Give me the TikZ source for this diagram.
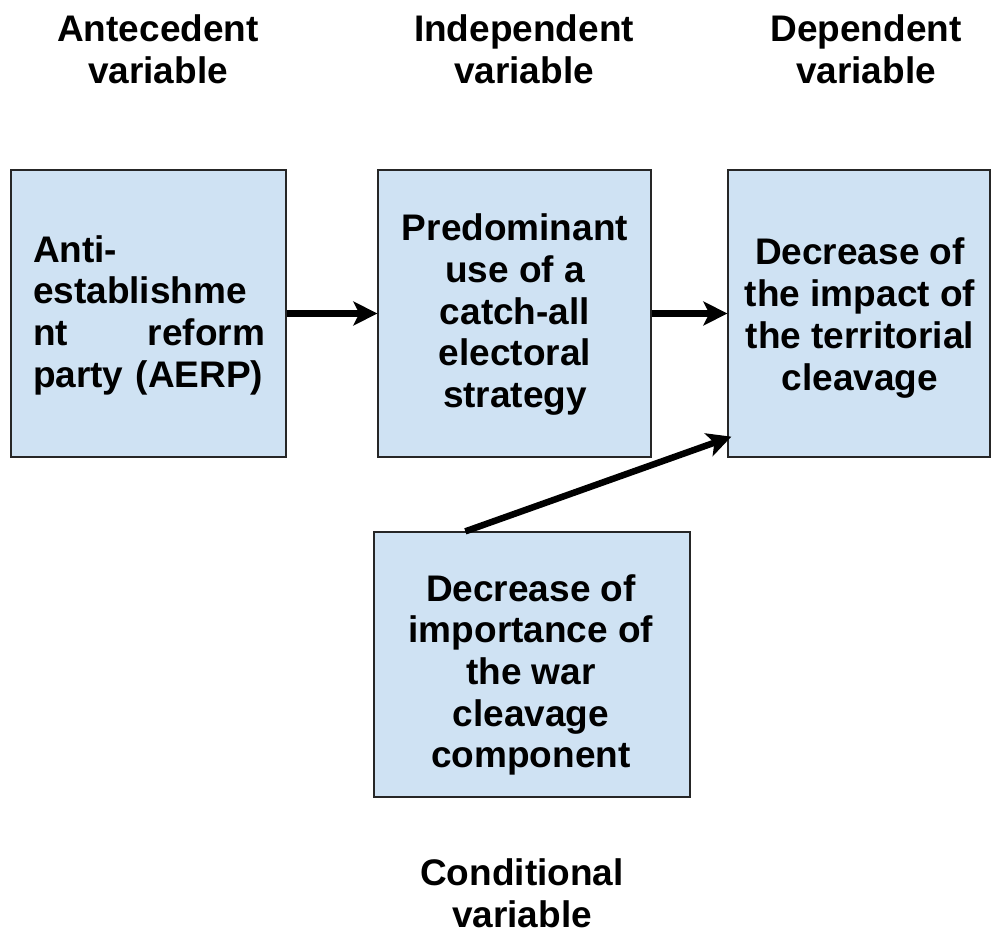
\documentclass[tikz,border=0pt]{standalone}
\usepackage{fontspec}
\setmainfont{Liberation Sans}
\usetikzlibrary{arrows.meta}

\begin{document}
\begin{tikzpicture}[x=1pt,y=-1pt,
    varbox/.style={draw=black!85,line width=1.3pt,fill=boxblue,inner sep=0pt},
    vartext/.style={inner sep=0pt,font=\bfseries\fontsize{37}{41.7}\selectfont},
    heading/.style={vartext,align=center},
    link/.style={line width=6.5pt,-{Stealth[length=24pt,width=24pt,inset=6pt]}}]
  \definecolor{boxblue}{RGB}{207,226,243}
  \useasboundingbox (0,0) rectangle (992,933);
  % the four boxes
  \node[varbox,minimum width=275,minimum height=287] (ante)  at (148.5,313.5) {};
  \node[varbox,minimum width=273,minimum height=287] (indep) at (514.5,313.5) {};
  \node[varbox,minimum width=262,minimum height=287] (dep)   at (859,313.5) {};
  \node[varbox,minimum width=316,minimum height=265] (cond)  at (532,664.5) {};
  \node[vartext,align=left,text width=232] (antetxt) at (149,315)
       {Anti-\\establishme\\nt\hfill reform\\party (AERP)};
  \node[vartext,align=center] (indeptxt) at (515,314.6)
       {Predominant\\use of a\\catch-all\\electoral\\strategy};
  \node[vartext,align=center] (deptxt) at (860,318)
       {Decrease of\\the impact of\\the territorial\\cleavage};
  \node[vartext,align=center] (condtxt) at (531,675)
       {Decrease of\\importance of\\the war\\cleavage\\component};
  % headings
  \node[heading] (anteh)  at (158,49)  {Antecedent\\variable};
  \node[heading] (indeph) at (524,49)  {Independent\\variable};
  \node[heading] (deph)   at (866,49)  {Dependent\\variable};
  \node[heading] (condh)  at (522,893) {Conditional\\variable};
  % arrows
  \draw[link] (ante.east) -- (indep.west);
  \draw[link] (indep.east) -- (dep.west);
  \draw[link] ([xshift=92pt]cond.north west) -- ([xshift=4pt,yshift=21pt]dep.south west);
\end{tikzpicture}
\end{document}
